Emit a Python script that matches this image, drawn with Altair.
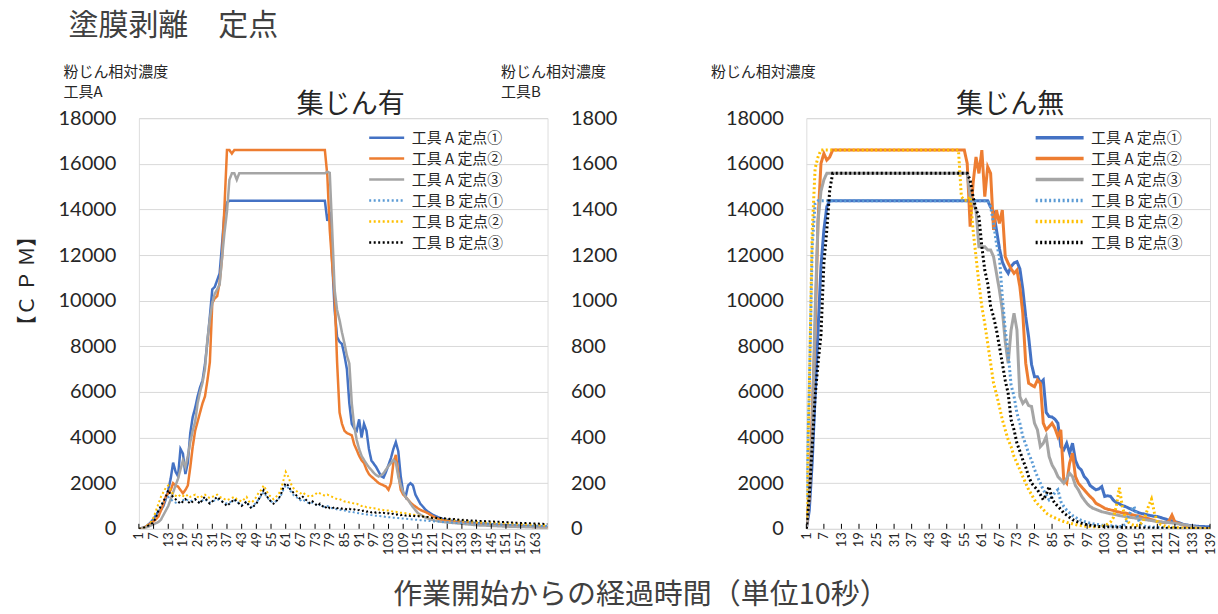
import altair as alt
import pandas as pd

# ---------------------------------------------------------------- data
SERIES = ["工具 A 定点①", "工具 A 定点②", "工具 A 定点③",
          "工具 B 定点①", "工具 B 定点②", "工具 B 定点③"]
COLORS = ["#4472C4", "#ED7D31", "#A5A5A5", "#5B9BD5", "#FFC000", "#000000"]

# 集じん有 (tool A on the primary axis, tool B on the secondary axis)
left_a1 = [0, 30, 60, 100, 200, 300, 450, 600, 780, 820, 1000, 1300, 1700, 2200, 2900, 2500, 2300, 3500, 3300, 2400,
           2900, 4200, 4900, 5300, 5800, 6200, 6500, 7200, 8200, 9300, 10500, 10600, 10900, 11200, 12500, 13900, 14300,
           14380, 14380, 14380, 14380, 14380, 14380, 14380, 14380, 14380, 14380, 14380, 14380, 14380, 14380, 14380,
           14380, 14380, 14380, 14380, 14380, 14380, 14380, 14380, 14380, 14380, 14380, 14380, 14380, 14380, 14380,
           14380, 14380, 14380, 14380, 14380, 14380, 14380, 14380, 14380, 14380,
           13500, 13900, 11700, 9600, 8400, 8200, 8100, 7600, 7000, 5500, 4600, 4400, 4300, 4800, 4000, 4600, 4300,
           3500, 3000, 2850, 2700, 2500, 2300, 2250, 2500, 2800, 3100, 3500, 3800, 3400, 2300, 1600, 1400, 1900, 2000,
           1900, 1500, 1300, 1100, 980, 850, 760, 690, 620, 570, 520, 470, 440, 410, 390, 370, 350, 330, 320,
           310, 300, 290, 280, 280, 270, 260, 250, 240, 240, 230, 220, 210, 200, 200, 190, 180, 180, 170, 160,
           160, 150, 150, 140, 140, 130, 130, 120, 120, 110, 110, 110, 100, 100, 100, 90, 90, 90]
left_a2 = [0, 20, 50, 100, 180, 250, 330, 420, 540, 800, 1100, 1420, 1560, 1700, 2000, 1900, 1850, 1700, 1560, 1700,
           1900, 2700, 3600, 4300, 4700, 5100, 5500, 5800, 6500, 7300, 9900, 10100, 10200, 10800, 11900, 14200, 16600,
           16600, 16450, 16600, 16600, 16600, 16600, 16600, 16600, 16600, 16600, 16600, 16600, 16600, 16600, 16600,
           16600, 16600, 16600, 16600, 16600, 16600, 16600, 16600, 16600, 16600, 16600, 16600, 16600, 16600, 16600,
           16600, 16600, 16600, 16600, 16600, 16600, 16600, 16600, 16600, 16600,
           15500, 13100, 11600, 10200, 7300, 5100, 4600, 4300, 4200, 4150, 4100, 3700, 3460, 3200, 3000, 2880, 2600,
           2400, 2290, 2200, 2100, 2000, 1950, 1900, 1850, 1710, 2000, 2880, 3240, 2440, 1710, 1500, 1400, 1270, 1150,
           1050, 980, 900, 830, 780, 740, 690, 620, 560, 500, 450, 400, 380, 360, 340, 320, 300, 290, 280,
           270, 260, 250, 240, 230, 220, 210, 200, 200, 190, 180, 170, 160, 160, 150, 150, 140, 140, 130, 130,
           120, 120, 110, 110, 100, 100, 100, 90, 90, 90, 80, 80, 80, 70, 70, 70, 60, 60]
left_a3 = [0, 10, 30, 60, 100, 150, 200, 250, 300, 400, 600, 800, 1000, 1300, 1600, 1900, 2200, 2600, 3000, 2700,
           3200, 3800, 4300, 4700, 5500, 6000, 6400, 7000, 8300, 9200, 9900, 10300, 10500, 10700, 11900, 13000, 13900,
           15300, 15580, 15580, 15300, 15580, 15580, 15580, 15580, 15580, 15580, 15580, 15580, 15580, 15580, 15580,
           15580, 15580, 15580, 15580, 15580, 15580, 15580, 15580, 15580, 15580, 15580, 15580, 15580, 15580, 15580,
           15580, 15580, 15580, 15580, 15580, 15580, 15580, 15580, 15580, 15580,
           15650, 15600, 13100, 10470, 9590, 9150, 8600, 8130, 7600, 7250, 5500, 4500, 3900, 3500, 3200, 3020, 2850,
           2700, 2580, 2450, 2350, 2290, 2350, 2440, 2600, 2750, 2880, 3020, 2900, 2290, 1900, 1600, 1400, 1270, 1100,
           950, 820, 690, 620, 560, 500, 460, 420, 390, 360, 340, 320, 300, 290, 280, 270, 260, 250, 240,
           230, 220, 210, 200, 190, 180, 170, 160, 150, 150, 140, 140, 130, 130, 120, 120, 110, 110, 100, 100,
           100, 90, 90, 90, 80, 80, 80, 70, 70, 70, 60, 60, 60, 50, 50, 50, 50, 50]
left_b1 = [0, 0, 5, 10, 15, 25, 40, 60, 80, 100, 120, 130, 140, 130, 120, 115, 110, 120, 125, 130,
           125, 120, 125, 130, 120, 115, 125, 130, 120, 115, 120, 125, 130, 125, 120, 115, 110, 115, 120, 125,
           120, 110, 105, 110, 120, 105, 95, 105, 115, 130, 145, 160, 145, 130, 120, 115, 120, 130, 145, 170,
           190, 180, 165, 150, 140, 135, 125, 130, 120, 115, 110, 115, 110, 100, 105, 100, 95, 100, 95, 90,
           90, 85, 85, 80, 80, 78, 75, 75, 72, 70, 68, 66, 65, 63, 62, 60, 58, 57, 56, 55,
           54, 52, 51, 50, 49, 48, 47, 46, 45, 44, 43, 42, 41, 40, 39, 38, 37, 36, 35, 34,
           33, 32, 32, 31, 30, 30, 29, 28, 28, 27, 26, 26, 25, 25, 24, 24, 23, 23, 22, 22,
           21, 21, 20, 20, 20, 19, 19, 18, 18, 18, 17, 17, 16, 16, 16, 15, 15, 15, 14, 14, 14, 13, 13, 13, 12, 12, 12, 12]
left_b2 = [0, 0, 5, 10, 20, 30, 50, 80, 110, 140, 160, 180, 190, 170, 150, 145, 140, 150, 145, 140,
           150, 140, 145, 150, 140, 135, 145, 150, 140, 135, 140, 145, 150, 140, 135, 130, 125, 130, 135, 140,
           130, 125, 120, 130, 140, 120, 115, 125, 140, 160, 170, 190, 170, 150, 140, 130, 140, 150, 170, 210,
           250, 230, 200, 180, 170, 160, 155, 160, 150, 145, 140, 145, 150, 160, 155, 150, 145, 150, 145, 140,
           135, 130, 130, 125, 120, 120, 115, 115, 110, 110, 105, 100, 100, 95, 95, 90, 90, 88, 85, 85,
           82, 80, 80, 78, 75, 75, 72, 70, 70, 68, 66, 64, 62, 60, 58, 56, 55, 54, 52, 50,
           48, 47, 46, 45, 44, 43, 42, 41, 40, 39, 38, 37, 36, 35, 34, 33, 32, 31, 30, 30,
           29, 29, 28, 28, 27, 27, 26, 26, 25, 25, 24, 24, 23, 23, 22, 22, 21, 21, 20, 20, 19, 19, 18, 18, 17, 17, 16, 16]
left_b3 = [0, 0, 5, 10, 15, 20, 30, 50, 80, 100, 120, 140, 170, 150, 140, 130, 120, 110, 120, 130,
           120, 110, 120, 130, 120, 110, 130, 140, 120, 110, 120, 130, 140, 130, 120, 110, 100, 110, 120, 130,
           120, 110, 100, 110, 120, 100, 90, 100, 110, 130, 150, 170, 150, 130, 120, 110, 120, 130, 150, 180,
           200, 190, 170, 160, 150, 140, 130, 140, 130, 120, 110, 120, 110, 100, 110, 100, 90, 100, 90, 90,
           95, 90, 92, 88, 90, 85, 88, 82, 85, 80, 82, 78, 80, 75, 78, 72, 75, 70, 72, 68,
           70, 66, 68, 64, 66, 62, 64, 60, 62, 58, 60, 56, 58, 55, 56, 53, 54, 51, 52, 50,
           48, 50, 46, 48, 45, 46, 43, 44, 42, 43, 40, 41, 39, 40, 38, 38, 36, 37, 35, 35,
           34, 34, 33, 33, 32, 32, 31, 31, 30, 30, 29, 29, 28, 28, 27, 27, 26, 26, 25, 25, 24, 24, 23, 23, 22, 22, 21, 21]

# 集じん無 (all six series on one axis)
right_a1 = [0, 800, 2900, 5800, 8700, 11500, 13100, 14120, 14380,
            14380, 14380, 14380, 14380, 14380, 14380, 14380, 14380, 14380, 14380, 14380, 14380, 14380, 14380,
            14380, 14380, 14380, 14380, 14380, 14380, 14380, 14380, 14380, 14380, 14380, 14380, 14380, 14380,
            14380, 14380, 14380, 14380, 14380, 14380, 14380, 14380, 14380, 14380, 14380, 14380, 14380, 14380,
            14380, 14380, 14380, 14380, 14380, 14380, 14380, 14380, 14380, 14380, 14380, 14380,
            14100, 13900, 13100, 12300, 11700, 11400, 11200, 11500, 11650, 11710, 11400, 10500, 9300, 8400, 7200,
            6670, 6670, 6400, 6520, 5100, 4920, 4900, 4800, 4630, 3600, 3460, 3750, 3310, 3750, 3000, 2700, 2580,
            2290, 2150, 1900, 1800, 1710, 1750, 1850, 1420, 1450, 1420, 1250, 1150, 1100, 1020, 980, 920, 860, 800,
            740, 690, 660, 630, 600, 570, 550, 540, 500, 460, 420, 380, 350, 320, 280, 240, 190, 170, 150, 130,
            120, 110, 100, 100, 90, 90]
right_a2 = [0, 1400, 5000, 8700, 13500, 16016, 16450, 16160, 16300,
            16600, 16600, 16600, 16600, 16600, 16600, 16600, 16600, 16600, 16600, 16600, 16600, 16600, 16600,
            16600, 16600, 16600, 16600, 16600, 16600, 16600, 16600, 16600, 16600, 16600, 16600, 16600, 16600,
            16600, 16600, 16600, 16600, 16600, 16600, 16600, 16600, 16600, 16600, 16600, 16600, 16600, 16600,
            16600, 16600, 16600, 16600,
            16016, 13240, 15140, 16300, 15580, 16600, 14556, 15870, 15580, 13100, 13970, 13390, 13970, 11930, 11640,
            11400, 11200, 11340, 10610, 9440, 7260, 6380, 6300, 6230, 6520, 6380, 4630, 4340, 4480, 4630, 4400,
            4040, 4340, 2150, 2000, 2880, 3310, 2290, 2000, 1850, 1710, 1560, 1420, 1300, 1120, 1050, 980, 900,
            860, 830, 800, 760, 730, 700, 690, 660, 630, 600, 570, 540, 500, 470, 440, 400, 360, 320, 300, 280,
            270, 350, 600, 300, 250, 200, 160, 120, 80, 30, 0, 0, 0, 0, 0, 0]
right_a3 = [0, 1500, 4300, 9500, 13500, 14800, 15300, 15580,
            15580, 15580, 15580, 15580, 15580, 15580, 15580, 15580, 15580, 15580, 15580, 15580, 15580, 15580,
            15580, 15580, 15580, 15580, 15580, 15580, 15580, 15580, 15580, 15580, 15580, 15580, 15580, 15580,
            15580, 15580, 15580, 15580, 15580, 15580, 15580, 15580, 15580, 15580, 15580, 15580, 15580, 15580,
            15580, 15580, 15580, 15580, 15580,
            15580, 14556, 14260, 13970, 12360, 12360, 12360, 12220, 12220, 11930, 11200, 10470, 9590, 8200, 7260,
            8716, 9446, 8716, 5800, 5500, 5650, 5400, 5360, 4630, 4340, 3600, 3750, 4040, 3170, 2800, 2580, 2290,
            2150, 2000, 2200, 2440, 2290, 1900, 1710, 1450, 1270, 1100, 980, 900, 850, 800, 750, 720, 690, 660,
            640, 610, 580, 560, 540, 520, 500, 480, 460, 440, 420, 400, 380, 360, 340, 320, 300, 290, 280, 270,
            260, 240, 220, 200, 180, 160, 130, 100, 80, 60, 40, 20, 0, 0]
right_b1 = [1400, 6000, 12360, 14260,
            14380, 14380, 14380, 14380, 14380, 14380, 14380, 14380, 14380, 14380, 14380, 14380, 14380, 14380,
            14380, 14380, 14380, 14380, 14380, 14380, 14380, 14380, 14380, 14380, 14380, 14380, 14380, 14380,
            14380, 14380, 14380, 14380, 14380, 14380, 14380, 14380, 14380, 14380, 14380, 14380, 14380, 14380,
            14380, 14380, 14380, 14380, 14380, 14380, 14380, 14380, 14380, 14380, 14380, 14380, 14380, 14380,
            14380, 14380, 14380,
            14120, 13390, 12510, 11930, 10176, 8716, 7700, 6300, 5800, 5066, 4630, 4040, 3700, 3300, 3000, 2600,
            2290, 2000, 1710, 1500, 1270, 1400, 1600, 1710, 1200, 980, 820, 700, 580, 500, 430, 370, 320, 280, 250,
            220, 200, 180, 160, 150, 140, 130, 120, 110, 100, 100, 200, 500, 800, 980, 600, 250, 150, 100,
            80, 75, 70, 65, 60, 55, 50, 45, 40, 35, 30, 25, 20, 15, 10, 5, 0, 0]
right_b2 = [500, 6000, 13000, 15800, 16300,
            16600, 16600, 16600, 16600, 16600, 16600, 16600, 16600, 16600, 16600, 16600, 16600, 16600, 16600,
            16600, 16600, 16600, 16600, 16600, 16600, 16600, 16600, 16600, 16600, 16600, 16600, 16600, 16600,
            16600, 16600, 16600, 16600, 16600, 16600, 16600, 16600, 16600, 16600, 16600, 16600, 16600, 16600,
            16600, 16600, 16600, 16600, 16600, 16600,
            14556, 14400, 14400, 14556, 13100, 11930, 10760, 9740, 9000, 8130, 7260, 6380, 5900, 5360, 4780, 4340,
            3900, 3600, 3170, 2880, 2600, 2290, 2000, 1710, 1500, 1270, 1100, 980, 850, 690, 600, 540, 480, 420,
            370, 320, 280, 250, 220, 190, 160, 140, 120, 110, 100, 90, 80, 80, 100, 150, 200, 300, 500, 1000,
            1800, 1000, 500, 300, 200, 150, 150, 200, 300, 600, 1000, 1300, 700, 300, 200, 150, 100,
            80, 70, 60, 50, 40, 30, 25, 20, 15, 10, 5, 0, 0, 0, 0]
right_b3 = [0, 1400, 3600, 5800, 7260, 8500, 11640, 13100, 14850,
            15580, 15580, 15580, 15580, 15580, 15580, 15580, 15580, 15580, 15580, 15580, 15580, 15580, 15580,
            15580, 15580, 15580, 15580, 15580, 15580, 15580, 15580, 15580, 15580, 15580, 15580, 15580, 15580,
            15580, 15580, 15580, 15580, 15580, 15580, 15580, 15580, 15580, 15580, 15580, 15580, 15580, 15580,
            15580, 15580, 15580, 15580, 15580,
            15290, 14556, 14000, 13680, 12370, 11340, 10760, 9740, 9300, 8716, 7990, 7260, 6500, 5940, 4780, 4340,
            3750, 3400, 3020, 2700, 2290, 2000, 1850, 1710, 1500, 1270, 1500, 1850, 1300, 1120, 980, 850, 690, 600,
            500, 400, 340, 290, 250, 210, 180, 160, 140, 120,
            100, 95, 90, 85, 80, 75, 70, 65, 60, 55, 50, 48, 45, 42, 40, 38, 35, 32, 30, 28, 25, 22, 20, 18, 15,
            12, 10, 8, 6, 5, 4, 3, 2, 1, 0, 0, 0, 0, 0]

LEFT_TICKS = list(range(1, 164, 6))
RIGHT_TICKS = list(range(1, 140, 6))
N_LEFT, N_RIGHT = 168, 139

# ---------------------------------------------------------------- style
JP = "Noto Sans CJK JP"
NUM = "Lato"
INK = "#262626"
W_L, W_R, H = 409, 404, 411
DASHES = [[1, 0], [1, 0], [1, 0], [2, 2.5], [2, 2.5], [2, 2.5]]


def to_long(names, arrays):
    rows = []
    for name, vals in zip(names, arrays):
        for i, v in enumerate(vals, start=1):
            rows.append({"t": i, "v": v, "s": name})
    return pd.DataFrame(rows)


left_a = to_long(SERIES[:3], [left_a1, left_a2, left_a3])
left_b = to_long(SERIES[3:], [left_b1, left_b2, left_b3])
right_df = to_long(SERIES, [right_a1, right_a2, right_a3, right_b1, right_b2, right_b3])


def x_enc(n, ticks, title=None):
    if title is not None:
        kw = dict(title=title, titleX=502, titleY=66, titleAngle=0, titleAlign="center",
                  titleBaseline="middle", titleFont=JP, titleFontSize=29, titleFontWeight="normal",
                  titleColor="#404040")
    else:
        kw = dict(title=None)
    return alt.X("t:Q", scale=alt.Scale(domain=[1, n], nice=False, zero=False),
                 axis=alt.Axis(values=ticks, labelAngle=270, labelFont=NUM, labelFontSize=13,
                               labelColor=INK, labelPadding=3, ticks=False, domain=False, grid=False,
                               labelOverlap=False, labelFlush=False, labelBound=False, **kw))


def y_axis(values, title, title_x, orient="left", grid=True, title_align="left"):
    return alt.Axis(values=values, format="d", orient=orient, labelFont=NUM, labelFontSize=20,
                    labelColor=INK, labelPadding=23, ticks=False, domain=False, grid=grid,
                    gridColor="#D9D9D9", gridWidth=1, title=title, titleAngle=0, titleAlign=title_align,
                    titleBaseline="top", titleX=title_x, titleY=-54, titleFont=JP, titleFontSize=15,
                    titleFontWeight="normal", titleColor=INK, titleLineHeight=20)


def legend(path, width, x):
    return alt.Legend(title=None, orient="none", legendX=x, legendY=12, symbolType=path,
                      symbolSize=100, symbolStrokeWidth=width, labelFont=JP, labelFontSize=15,
                      labelColor=INK, rowPadding=5, labelOffset=5, padding=0)


def series_enc(lg):
    return dict(
        color=alt.Color("s:N", scale=alt.Scale(domain=SERIES, range=COLORS), legend=lg, title=None),
        strokeDash=alt.StrokeDash("s:N", scale=alt.Scale(domain=SERIES, range=DASHES), legend=lg,
                                  title=None),
    )


# ---------------------------------------------------------------- 集じん有
lg_left = legend("M-6,0H1", 2.5, 253)
xl = x_enc(N_LEFT, LEFT_TICKS, "作業開始からの経過時間（単位10秒）")

line_a = alt.Chart(left_a).mark_line(strokeWidth=2.5, clip=True).encode(
    x=xl,
    y=alt.Y("v:Q", scale=alt.Scale(domain=[0, 18000], nice=False),
            axis=y_axis(list(range(0, 18001, 2000)), ["粉じん相対濃度", "工具A"], -76)),
    order="t:Q",
    **series_enc(lg_left),
)
line_b = alt.Chart(left_b).mark_line(strokeWidth=2, clip=True).encode(
    x=xl,
    y=alt.Y("v:Q", scale=alt.Scale(domain=[0, 1800], nice=False),
            axis=y_axis(list(range(0, 1801, 200)), ["粉じん相対濃度", "工具B"], -47,
                        orient="right", grid=False)),
    order="t:Q",
    **series_enc(lg_left),
)

tick_left = alt.Chart(pd.DataFrame({"t": LEFT_TICKS})).mark_rule(color="#000", strokeWidth=1).encode(
    x=xl, y=alt.value(H), y2=alt.value(H - 5))

title_left = alt.Chart(pd.DataFrame({"txt": ["集じん有"]})).mark_text(
    font=JP, fontSize=27, color=INK, baseline="middle").encode(
    text="txt:N", x=alt.value(212), y=alt.value(-13))
cpm = alt.Chart(pd.DataFrame({"txt": ["【Ｃ Ｐ Ｍ】"]})).mark_text(
    font=JP, fontSize=20, color=INK, angle=270, baseline="middle", align="center").encode(
    text="txt:N", x=alt.value(-111), y=alt.value(163))

left = alt.layer(line_a, line_b, tick_left, title_left, cpm).resolve_scale(y="independent").properties(
    width=W_L, height=H)

# ---------------------------------------------------------------- 集じん無
lg_right = legend("M-8.6,0H1", 3.5, 265)
xr = x_enc(N_RIGHT, RIGHT_TICKS)
line_r = alt.Chart(right_df).mark_line(strokeWidth=3, clip=True).encode(
    x=xr,
    y=alt.Y("v:Q", scale=alt.Scale(domain=[0, 18000], nice=False),
            axis=y_axis(list(range(0, 18001, 2000)), "粉じん相対濃度", -96)),
    order="t:Q",
    **series_enc(lg_right),
)
tick_right = alt.Chart(pd.DataFrame({"t": RIGHT_TICKS})).mark_rule(color="#000", strokeWidth=1).encode(
    x=xr, y=alt.value(H), y2=alt.value(H - 5))
title_right = alt.Chart(pd.DataFrame({"txt": ["集じん無"]})).mark_text(
    font=JP, fontSize=27, color=INK, baseline="middle").encode(
    text="txt:N", x=alt.value(204), y=alt.value(-13))

right = alt.layer(line_r, tick_right, title_right).properties(width=W_R, height=H)

chart = alt.hconcat(left, right, spacing=259, bounds="flush").resolve_scale(
    color="independent", strokeDash="independent").properties(
    title=alt.TitleParams("塗膜剥離　定点", anchor="start", font=JP, fontSize=30, fontWeight="normal",
                          color="#404040", dx=51, offset=23),
    padding={"left": 17, "top": 10, "right": 0, "bottom": 0},
).configure_view(stroke="#000", strokeWidth=1.5).configure(background="white")

chart.save("out.html", embed_options={"renderer": "svg", "actions": False})
